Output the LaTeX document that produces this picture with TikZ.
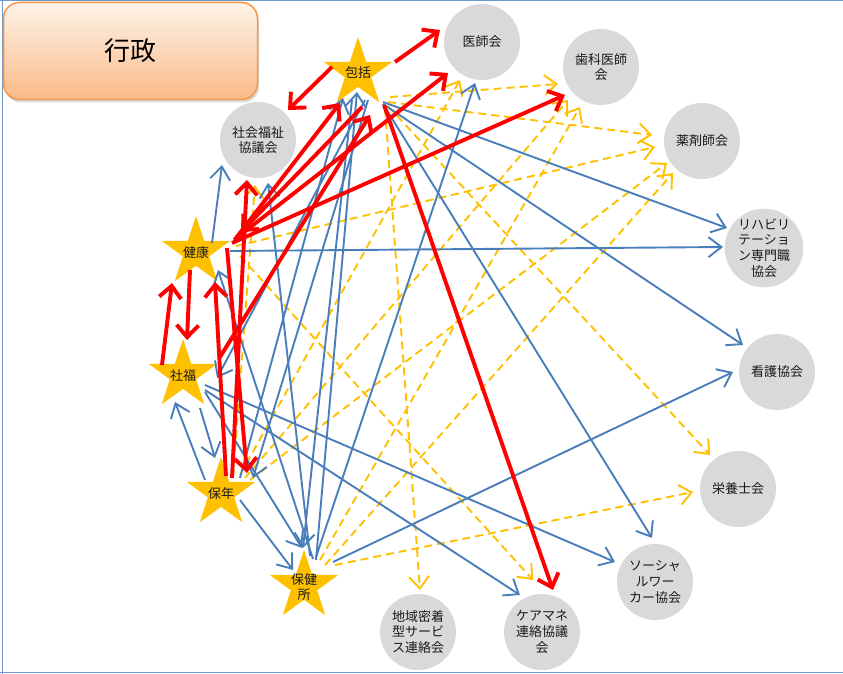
\documentclass[tikz,border=0pt]{standalone}
\usepackage{fontspec}
\setmainfont{Noto Sans CJK JP}
\usetikzlibrary{shapes.geometric,arrows.meta,calc,shadows}
\definecolor{blueC}{HTML}{4A7EBB}
\definecolor{yelC}{HTML}{FFC000}
\definecolor{grayC}{HTML}{D9D9D9}
\definecolor{orC}{HTML}{F79646}
\definecolor{txtC}{HTML}{1A1A1A}
\begin{document}
\begin{tikzpicture}[x=1pt,y=-1pt,
  circ/.style={circle,fill=grayC,minimum size=76pt,inner sep=0pt,align=center,
    font=\fontsize{13}{15.7}\selectfont,text=txtC},
  starshape/.style={star,star points=5,star point ratio=2.6,fill=yelC,
    minimum size=72pt,inner sep=0pt},
  lbl/.style={font=\fontsize{13}{15}\selectfont,align=center,text=txtC,inner sep=0pt},
  bl/.style={draw=blueC,line width=1.9pt,-{Straight Barb[length=13pt,width=20pt]}},
  rd/.style={draw=red,line width=3.9pt,-{Straight Barb[length=12pt,width=22pt]}},
  yl/.style={draw=yelC,line width=1.9pt,dash pattern=on 8pt off 5pt,
    -{Straight Barb[length=12pt,width=20pt]}},
  framec/.style={draw=blueC!80,line width=1pt}
]
\useasboundingbox (0,0) rectangle (843,674);
\draw[framec] (0,1) -- (843,1);
\draw[framec] (2,0) -- (2,674);
\draw[framec] (0,672.5) -- (843,672.5);

% title box
\node[draw=orC,line width=1.5pt,rounded corners=16pt,minimum width=254pt,minimum height=97pt,
  top color=orC!12,bottom color=orC!65!white,
  drop shadow={shadow xshift=1.5pt,shadow yshift=-3pt,opacity=0.3},
  font=\fontsize{26}{30}\selectfont,text=black] (gyosei) at (130.5,51) {行政};

% circles
\node[circ] (ishi) at (482,42) {医師会};
\node[circ] (shika) at (601,67) {歯科医師\\会};
\node[circ] (yaku) at (702,141) {薬剤師会};
\node[circ] (reha) at (764,248) {リハビリ\\テーショ\\ン専門職\\協会};
\node[circ] (kango) at (777,372) {看護協会};
\node[circ] (eiyo) at (738,489) {栄養士会};
\node[circ] (sw) at (655,582) {ソーシャ\\ルワー\\カー協会};
\node[circ] (cm) at (542,632) {ケアマネ\\連絡協議\\会};
\node[circ] (cs) at (418,632) {地域密着\\型サービ\\ス連絡会};
\node[circ] (shakyo) at (258,140) {社会福祉\\協議会};

% stars
\node[starshape] (hk) at (358,73) {};
\node[starshape] (kk) at (196,252) {};
\node[starshape] (sf) at (183,375) {};
\node[starshape] (hn) at (221,493) {};
\node[starshape] (hc) at (304,586) {};
\node[lbl] (hkt) at (358,73) {包括};
\node[lbl] (kkt) at (196,253) {健康};
\node[lbl] (sft) at (183,376) {社福};
\node[lbl] (hnt) at (221,494) {保年};
\node[lbl] (hct) at (304,587) {保健\\所};

% yellow dashed
\draw[yl] ($(hk)+(32,24)$) -- ($(shika)+(-43,17)$);
\draw[yl] ($(hk)+(30,29)$) -- ($(yaku)+(-50,-6)$);
\draw[yl] ($(hk)+(30,33)$) -- ($(eiyo)+(-28,-34)$);
\draw[yl] ($(hk)+(27,35)$) -- ($(cs)+(2,-42)$);
\draw[yl] ($(kk)+(44,4)$) -- ($(cm)+(-9,-52)$);
\draw[yl] ($(kk)+(40,-6)$) -- ($(yaku)+(-47,6)$);
\draw[yl] ($(hn)+(12,-16)$) -- ($(shakyo)+(-3,45)$);
\draw[yl] ($(hn)+(19,-18)$) -- ($(ishi)+(-22,38)$);
\draw[yl] ($(hn)+(24,-15)$) -- ($(shika)+(-33,33)$);
\draw[yl] ($(hc)+(16,-26)$) -- ($(shika)+(-21,40)$);
\draw[yl] ($(hn)+(29,-13)$) -- ($(yaku)+(-35,22)$);
\draw[yl] ($(hc)+(21,-21)$) -- ($(yaku)+(-29,32)$);
\draw[yl] ($(hc)+(31,-21)$) -- ($(eiyo)+(-45,3)$);

% blue
\draw[bl] ($(hk)+(25,29)$) -- ($(reha)+(-37,-20)$);
\draw[bl] ($(hk)+(25,31)$) -- ($(kango)+(-34,-27)$);
\draw[bl] ($(hk)+(25,31)$) -- ($(sw)+(-3,-44)$);
\draw[bl] ($(kk)+(34,-1)$) -- ($(reha)+(-41,-1)$);
\draw[bl] ($(hc)+(12,-29)$) -- ($(ishi)+(-7,41)$);
\draw[bl] ($(hc)+(29,-24)$) -- ($(kango)+(-44,0)$);
\draw[bl] ($(kk)+(16,-9)$) -- ($(shakyo)+(-36,25)$);
\draw[bl] ($(hc)+(6,-30)$) -- ($(shakyo)+(10,43)$);
\draw[bl] ($(hk)+(-6,27)$) -- ($(hc)+(-1,-38)$);
\draw[bl] ($(hc)+(12,-26)$) -- ($(hk)+(-1,19)$);
\draw[bl] ($(hn)+(19,-15)$) -- ($(hk)+(-15,25)$);
\draw[bl] ($(hk)+(10,27)$) -- ($(hn)+(32,-15)$);
\draw[bl] ($(hk)+(7,27)$) -- ($(sf)+(34,3)$);
\draw[bl] ($(sf)+(22,17)$) -- ($(hc)+(-2,-38)$);
\draw[bl] ($(hn)+(19,7)$) -- ($(hc)+(-11,-16)$);
\draw[bl] ($(sf)+(17,33)$) -- ($(hn)+(-6,-35)$);
\draw[bl] ($(hn)+(-16,-13)$) -- ($(sf)+(-8,27)$);
\draw[bl] ($(hc)+(9,-27)$) -- ($(kk)+(22,18)$);
\draw[bl] ($(sf)+(22,10)$) -- ($(sw)+(-40,-20)$);
\draw[bl] ($(sf)+(22,15)$) -- ($(cm)+(-22,-37)$);

% red
\draw[rd] ($(hk)+(-26,-6)$) -- ($(shakyo)+(30,-30)$);
\draw[rd] ($(hk)+(37,-11)$) -- ($(ishi)+(-42,-12)$);
\draw[rd] ($(kk)+(38,-12)$) -- ($(ishi)+(-34,31)$);
\draw[rd] ($(kk)+(36,-9)$) -- ($(shika)+(-36,28)$);
\draw[rd] ($(kk)+(40,-14)$) -- ($(hk)+(-18,30)$);
\draw[rd] ($(hk)+(4,34)$) -- ($(kk)+(45,-20)$);
\draw[rd] ($(sf)+(37,-18)$) -- ($(hk)+(12,42)$);
\draw[rd] ($(kk)+(-6,18)$) -- ($(sf)+(4,-35)$);
\draw[rd] ($(sf)+(-21,-10)$) -- ($(kk)+(-24,31)$);
\draw[rd] ($(hn)+(5,-17)$) -- ($(kk)+(19,30)$);
\draw[rd] ($(kk)+(31,-4)$) -- ($(hn)+(26,-20)$);
\draw[rd] ($(hn)+(11,-15)$) -- ($(shakyo)+(-11,40)$);
\draw[rd] ($(hk)+(26,32)$) -- ($(cm)+(11,-42)$);
\end{tikzpicture}
\end{document}
